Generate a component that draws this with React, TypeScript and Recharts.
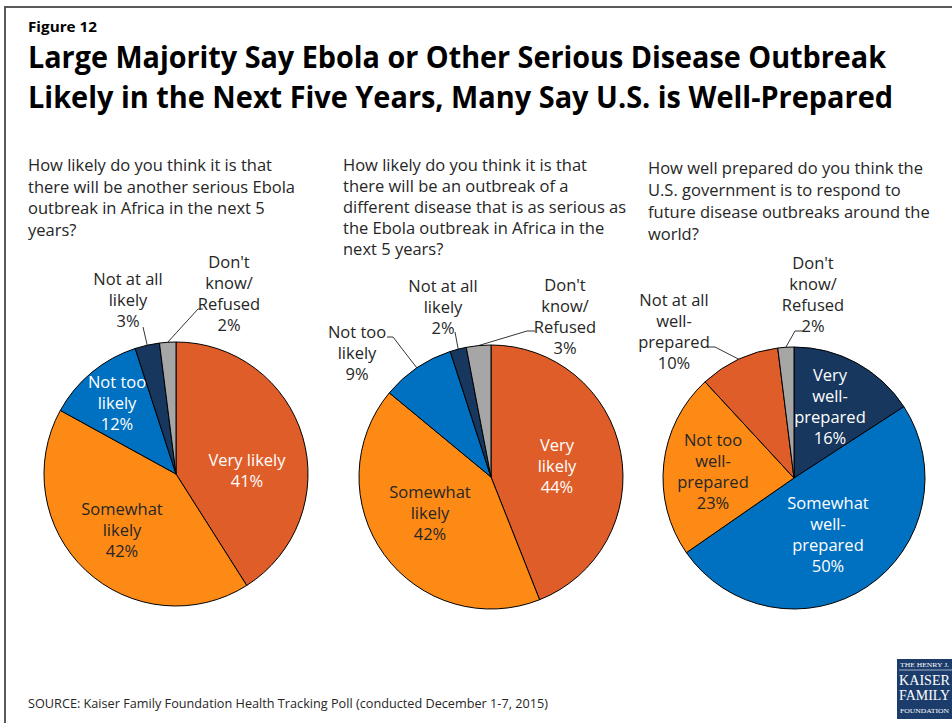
import { PieChart, Pie, Cell } from 'recharts'

// survey values, clockwise from 12 o'clock
const likelyNames = ['Very likely', 'Somewhat likely', 'Not too likely', 'Not at all likely', "Don't know/Refused"]
const ebolaValues = [41, 42, 12, 3, 2]
const otherDiseaseValues = [44, 42, 9, 2, 3]

const preparedNames = ['Very well-prepared', 'Somewhat well-prepared', 'Not too well-prepared', 'Not at all well-prepared', "Don't know/Refused"]
const preparedValues = [16, 50, 23, 10, 2]

// how each slice label is broken into lines
const ebolaLabelLines = [['Very likely'], ['Somewhat', 'likely'], ['Not too', 'likely'], ['Not at all', 'likely'], ["Don't", 'know/', 'Refused']]
const otherLabelLines = [['Very', 'likely'], ['Somewhat', 'likely'], ['Not too', 'likely'], ['Not at all', 'likely'], ["Don't", 'know/', 'Refused']]
const preparedLabelLines = [['Very', 'well-', 'prepared'], ['Somewhat', 'well-', 'prepared'], ['Not too', 'well-', 'prepared'], ['Not at all', 'well-', 'prepared'], ["Don't", 'know/', 'Refused']]

const questionEbola = ['How likely do you think it is that', 'there will be another serious Ebola', 'outbreak in Africa in the next 5', 'years?']
const questionOther = ['How likely do you think it is that', 'there will be an outbreak of a', 'different disease that is as serious as', 'the Ebola outbreak in Africa in the', 'next 5 years?']
const questionPrepared = ['How well prepared do you think the', 'U.S. government is to respond to', 'future disease outbreaks around the', 'world?']

const RED = '#DF5D28'
const ORANGE = '#FD8A14'
const BLUE = '#0070C0'
const NAVY = '#17375E'
const GRAY = '#A6A6A6'
const TEXT = '#262626'
const FONT = '"Open Sans", "Noto Sans", sans-serif'
const SERIF = '"Liberation Serif", serif'
const FS = 16.5
const LINE = 21

const likelyColors = [RED, ORANGE, BLUE, NAVY, GRAY]
const preparedColors = [NAVY, BLUE, ORANGE, RED, GRAY]

type Spot = { dx: number; dy: number; color: string; leader?: number[][] }

// label placement relative to each pie centre
const ebolaSpots: Spot[] = [
  { dx: 71, dy: -14, color: '#fff' },
  { dx: -54, dy: 35, color: TEXT },
  { dx: -59, dy: -92, color: '#fff' },
  { dx: -48, dy: -195, color: TEXT, leader: [[-33, -147]] },
  { dx: 53, dy: -212, color: TEXT, leader: [[22, -165], [27, -165]] },
]
const otherSpots: Spot[] = [
  { dx: 66, dy: -32, color: '#fff' },
  { dx: -61, dy: 15, color: TEXT },
  { dx: -134, dy: -145, color: TEXT, leader: [[-98, -140], [-104, -140]] },
  { dx: -48, dy: -191, color: TEXT, leader: [[-36, -145]] },
  { dx: 74, dy: -192, color: TEXT, leader: [[36, -146], [44, -146]] },
]
const preparedSpots: Spot[] = [
  { dx: 36, dy: -103, color: '#fff' },
  { dx: 34, dy: 25, color: '#fff' },
  { dx: -81, dy: -38, color: TEXT },
  { dx: -120, dy: -178, color: TEXT, leader: [[-79, -131], [-87, -131]] },
  { dx: 19, dy: -215, color: TEXT, leader: [[1, -147], [9, -147]] },
]

const makeLabel = (lines: string[][], spots: Spot[]) => (props: any) => {
  const { cx, cy, midAngle, outerRadius, index, value } = props
  const spot = spots[index]
  const rad = (-midAngle * Math.PI) / 180
  const ex = cx + outerRadius * Math.cos(rad)
  const ey = cy + outerRadius * Math.sin(rad)
  const text = [...lines[index], `${value}%`]
  const pts = spot.leader
    ? [[ex, ey], ...spot.leader.map(([x, y]) => [cx + x, cy + y])].map((p) => p.join(',')).join(' ')
    : null
  return (
    <g key={`lbl-${index}`}>
      {pts && <polyline points={pts} fill="none" stroke="#000" strokeWidth={0.8} />}
      {text.map((t, i) => (
        <text
          key={i}
          x={cx + spot.dx}
          y={cy + spot.dy + i * LINE + 5.5}
          textAnchor="middle"
          fill={spot.color}
          fontSize={FS}
          fontFamily={FONT}
        >
          {t}
        </text>
      ))}
    </g>
  )
}

const toRows = (names: string[], values: number[]) => names.map((name, i) => ({ name, value: values[i] }))

function Question({ lines, x, y, gap }: { lines: string[]; x: number; y: number; gap: number }) {
  return (
    <>
      {lines.map((l, i) => (
        <text key={i} x={x} y={y + i * gap} fontSize={FS} fontFamily={FONT} fill={TEXT}>
          {l}
        </text>
      ))}
    </>
  )
}

export default function App() {
  return (
    <div style={{ position: 'relative', width: 952, height: 723, background: '#fff', overflow: 'hidden' }}>
      <style>{'body{margin:0}'}</style>
      <svg width={952} height={723} style={{ position: 'absolute', left: 0, top: 0 }}>
        <rect x={5} y={7} width={1000} height={800} fill="none" stroke="#595959" strokeWidth={2} />
        <text x={28} y={32} fontSize={14} fontWeight={700} fontFamily={FONT} fill="#000" textLength={69} lengthAdjust="spacingAndGlyphs">
          Figure 12
        </text>
        <text x={28} y={68} fontSize={30} fontWeight={700} fontFamily={FONT} fill="#000" textLength={858} lengthAdjust="spacingAndGlyphs">
          Large Majority Say Ebola or Other Serious Disease Outbreak
        </text>
        <text x={28} y={108} fontSize={30} fontWeight={700} fontFamily={FONT} fill="#000" textLength={865} lengthAdjust="spacingAndGlyphs">
          Likely in the Next Five Years, Many Say U.S. is Well-Prepared
        </text>
        <Question lines={questionEbola} x={28} y={171} gap={21.5} />
        <Question lines={questionOther} x={343} y={171} gap={21} />
        <Question lines={questionPrepared} x={648} y={174} gap={22} />
        <text x={28} y={708} fontSize={13} fontFamily={FONT} fill={TEXT} textLength={520} lengthAdjust="spacingAndGlyphs">
          SOURCE: Kaiser Family Foundation Health Tracking Poll (conducted December 1-7, 2015)
        </text>
        <rect x={897} y={659} width={60} height={60} fill="#1C3C6C" />
        <text x={900} y={667} fontSize={6.5} fontFamily={SERIF} fill="#fff" textLength={49} lengthAdjust="spacingAndGlyphs">THE HENRY J.</text>
        <line x1={899} y1={670} x2={952} y2={670} stroke="#fff" strokeWidth={0.6} />
        <text x={899} y={685} fontSize={14} fontFamily={SERIF} fill="#fff" textLength={51} lengthAdjust="spacingAndGlyphs">KAISER</text>
        <text x={899} y={700} fontSize={14} fontFamily={SERIF} fill="#fff" textLength={51} lengthAdjust="spacingAndGlyphs">FAMILY</text>
        <text x={900} y={713} fontSize={6.5} fontFamily={SERIF} fill="#fff" textLength={49} lengthAdjust="spacingAndGlyphs">FOUNDATION</text>
      </svg>
      <div style={{ position: 'absolute', left: 0, top: 0 }}>
        <PieChart width={952} height={723} margin={{ top: 0, right: 0, bottom: 0, left: 0 }}>
          <Pie
            data={toRows(likelyNames, ebolaValues)}
            dataKey="value"
            cx={176}
            cy={474}
            outerRadius={132}
            startAngle={90}
            endAngle={-270}
            stroke="#000"
            strokeWidth={1}
            labelLine={false}
            label={makeLabel(ebolaLabelLines, ebolaSpots)}
            isAnimationActive={false}
          >
            {likelyColors.map((c, i) => (
              <Cell key={i} fill={c} />
            ))}
          </Pie>
          <Pie
            data={toRows(likelyNames, otherDiseaseValues)}
            dataKey="value"
            cx={491}
            cy={477}
            outerRadius={132}
            startAngle={90}
            endAngle={-270}
            stroke="#000"
            strokeWidth={1}
            labelLine={false}
            label={makeLabel(otherLabelLines, otherSpots)}
            isAnimationActive={false}
          >
            {likelyColors.map((c, i) => (
              <Cell key={i} fill={c} />
            ))}
          </Pie>
          <Pie
            data={toRows(preparedNames, preparedValues)}
            dataKey="value"
            cx={794}
            cy={478}
            outerRadius={131}
            startAngle={90}
            endAngle={-270}
            stroke="#000"
            strokeWidth={1}
            labelLine={false}
            label={makeLabel(preparedLabelLines, preparedSpots)}
            isAnimationActive={false}
          >
            {preparedColors.map((c, i) => (
              <Cell key={i} fill={c} />
            ))}
          </Pie>
        </PieChart>
      </div>
    </div>
  )
}
